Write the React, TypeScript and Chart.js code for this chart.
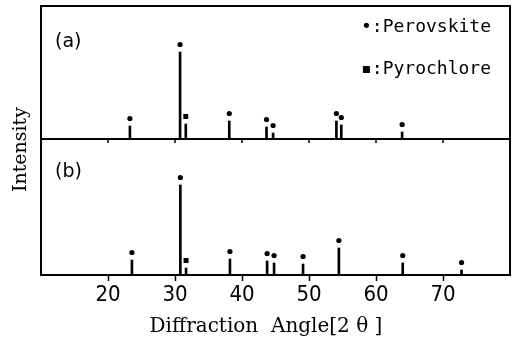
import React, { useEffect, useRef } from "react";
import { Chart, registerables } from "chart.js";

Chart.register(...registerables);

// ---- data ----
const perovAnglesA = [23.27, 30.76, 38.1, 43.66, 44.64, 54.09, 54.82, 63.9];
const perovIntensA = [13, 87, 18, 12, 6, 18, 14, 7];
const pyroAnglesA = [31.61];
const pyroIntensA = [15];

const perovAnglesB = [23.57, 30.8, 38.2, 43.75, 44.79, 49.11, 54.46, 63.99, 72.77];
const perovIntensB = [15, 90, 16, 14, 12, 11, 27, 12, 5];
const pyroAnglesB = [31.65];
const pyroIntensB = [7];

const xTickValues = [20, 30, 40, 50, 60, 70];
const panelLabels = ["(a)", "(b)"];
const legendLabels = ["•:Perovskite", "▪:Pyrochlore"];
const xTitle = "Diffraction  Angle[2 θ ]";
const yTitle = "Intensity";

// ---- layout of the stacked panels (value units) ----
const X_MIN = 10;
const X_MAX = 80;
const BASE_B = 0;
const BASE_A = 136;
const Y_MAX = 269;
const MARK_GAP = 7.5;

const bars = (angles: number[], intens: number[], base: number) =>
  angles.map((a, i) => ({ x: a, y: [base, base + intens[i]] }));
const marks = (angles: number[], intens: number[], base: number) =>
  angles.map((a, i) => ({ x: a, y: base + intens[i] + MARK_GAP }));

const decor = {
  id: "decor",
  afterDraw(chart: any) {
    const { ctx, chartArea, scales } = chart;
    const { left, right, top, bottom } = chartArea;
    const x = scales.x;
    const y = scales.y;
    const mid = y.getPixelForValue(BASE_A);
    ctx.save();
    ctx.strokeStyle = "#000";
    ctx.lineWidth = 2;
    ctx.beginPath();
    ctx.moveTo(left, bottom);
    ctx.lineTo(left, top);
    ctx.lineTo(right, top);
    ctx.lineTo(right, bottom);
    ctx.moveTo(left, mid);
    ctx.lineTo(right, mid);
    ctx.stroke();
    ctx.lineWidth = 1.5;
    ctx.beginPath();
    xTickValues.forEach((v) => {
      const px = x.getPixelForValue(v);
      ctx.moveTo(px, mid);
      ctx.lineTo(px, mid + 4);
    });
    ctx.stroke();

    ctx.fillStyle = "#000";
    ctx.textAlign = "left";
    ctx.textBaseline = "middle";
    ctx.font = '19px "DejaVu Sans"';
    ctx.fillText(panelLabels[0], left + 14, top + 36);
    ctx.fillText(panelLabels[1], left + 14, mid + 33);

    ctx.textBaseline = "alphabetic";
    ctx.font = '18px "DejaVu Sans Mono"';
    ctx.fillText(legendLabels[0], right - 149, top + 26);
    ctx.fillText(legendLabels[1], right - 149, top + 68);
    ctx.restore();
  },
};

export default function App() {
  const ref = useRef<HTMLCanvasElement | null>(null);

  useEffect(() => {
    if (!ref.current) return;
    const chart = new Chart(ref.current, {
      type: "bar",
      data: {
        datasets: [
          {
            type: "bar",
            label: "peaks",
            data: [
              ...bars(perovAnglesA, perovIntensA, BASE_A),
              ...bars(pyroAnglesA, pyroIntensA, BASE_A),
              ...bars(perovAnglesB, perovIntensB, BASE_B),
              ...bars(pyroAnglesB, pyroIntensB, BASE_B),
            ] as any,
            backgroundColor: "#000",
            borderWidth: 0,
            barThickness: 2,
          },
          {
            type: "scatter",
            label: "Perovskite",
            data: [
              ...marks(perovAnglesA, perovIntensA, BASE_A),
              ...marks(perovAnglesB, perovIntensB, BASE_B),
            ] as any,
            pointStyle: "circle",
            pointRadius: 2.6,
            backgroundColor: "#000",
            borderColor: "#000",
            borderWidth: 0,
          },
          {
            type: "scatter",
            label: "Pyrochlore",
            data: [
              ...marks(pyroAnglesA, pyroIntensA, BASE_A),
              ...marks(pyroAnglesB, pyroIntensB, BASE_B),
            ] as any,
            pointStyle: "rect",
            pointRadius: 3.5,
            backgroundColor: "#000",
            borderColor: "#000",
            borderWidth: 0,
          },
        ],
      },
      options: {
        animation: false,
        responsive: false,
        layout: { padding: { top: 6, right: 6, bottom: 0, left: 0 } },
        plugins: {
          legend: { display: false },
          tooltip: { enabled: false },
        },
        scales: {
          x: {
            type: "linear",
            min: X_MIN,
            max: X_MAX,
            offset: false,
            afterBuildTicks: (s: any) => {
              s.ticks = xTickValues.map((v) => ({ value: v }));
            },
            afterFit: (s: any) => {
              s.height = 63;
            },
            ticks: {
              autoSkip: false,
              maxRotation: 0,
              color: "#000",
              padding: 1,
              font: {
                family: '"Liberation Sans Narrow", "DejaVu Sans Condensed", "Liberation Sans", sans-serif',
                size: 22,
              },
            },
            grid: {
              offset: false,
              drawOnChartArea: false,
              drawTicks: true,
              tickLength: 6,
              tickWidth: 1.5,
              tickColor: "#000",
            },
            border: { display: true, color: "#000", width: 2 },
            title: {
              display: true,
              text: xTitle + "   ",
              color: "#000",
              font: { family: '"DejaVu Serif"', size: 20, lineHeight: 1 },
              padding: { top: 0, bottom: 1 },
            },
          },
          y: {
            min: 0,
            max: Y_MAX,
            afterFit: (s: any) => {
              s.width = 41;
            },
            ticks: { display: false },
            grid: { display: false },
            border: { display: true, color: "#000", width: 2 },
            title: {
              display: true,
              text: yTitle + "   ",
              color: "#000",
              font: { family: '"DejaVu Serif"', size: 19, lineHeight: 1.2 },
              padding: { top: 10, bottom: 0 },
            },
          },
        },
      } as any,
      plugins: [decor],
    });
    return () => chart.destroy();
  }, []);

  return (
    <div style={{ position: "fixed", left: 0, top: 0, width: 516, height: 338, background: "#fff" }}>
      <canvas ref={ref} width={516} height={338} />
    </div>
  );
}
